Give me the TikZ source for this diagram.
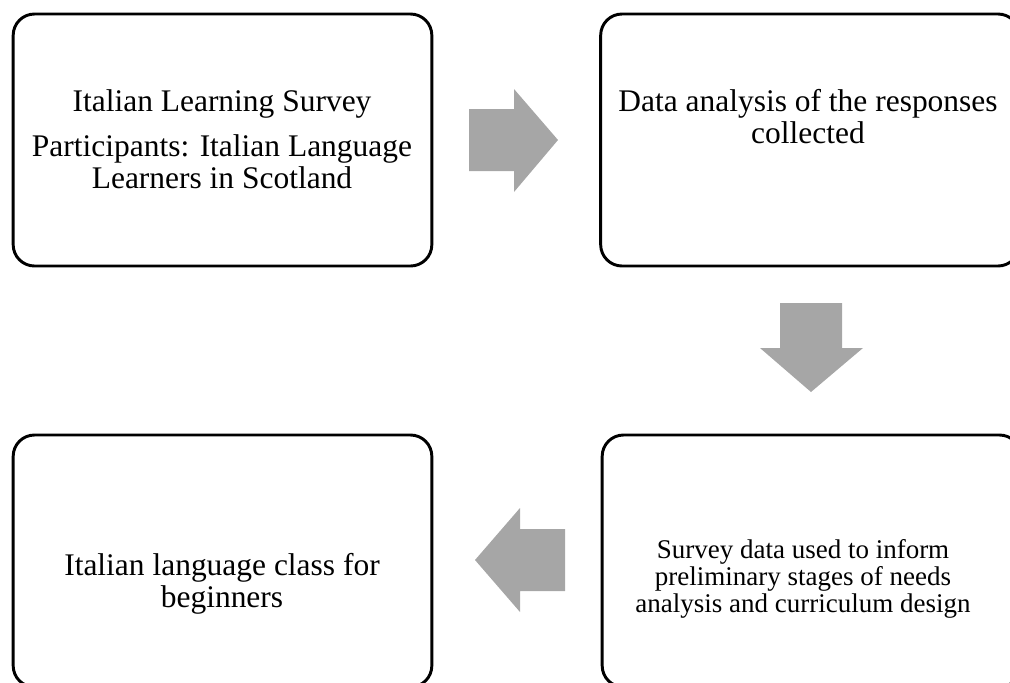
\documentclass[tikz,border=0pt]{standalone}
\usepackage{fontspec}
\setmainfont{Liberation Serif}
\begin{document}
\begin{tikzpicture}[x=0.75pt,y=-0.75pt,
  stage/.style={draw=black, line width=2.2pt, rounded corners=16pt,
    minimum width=314pt, minimum height=189pt, inner sep=0pt},
  caption/.style={inner sep=0pt, align=center, anchor=north,
    font=\fontsize{23.6}{24}\selectfont},
  smallcaption/.style={inner sep=0pt, align=center, anchor=north,
    font=\fontsize{20.25}{20.5}\selectfont},
  flow/.style={fill=flowgray, draw=none}]
\definecolor{flowgray}{HTML}{A6A6A6}
\useasboundingbox (0,0) rectangle (1010,682);

% the four stages
\node[stage] (survey)   at (222.5,140) {};
\node[stage] (analysis) at (810,140) {};
\node[stage] (design)   at (811.5,561) {};
\node[stage] (class)    at (222.5,561) {};

% stage texts
\node[caption] (surveytext) at (222,89)
  {Italian Learning Survey\\[9.75pt]Participants: Italian Language\\Learners in Scotland};
\node[caption] (analysistext) at (808,89)
  {Data analysis of the responses\\collected};
\node[smallcaption] (designtext) at (803,539)
  {Survey data used to inform\\preliminary stages of needs\\analysis and curriculum design};
\node[caption] (classtext) at (222,553)
  {Italian language class for\\beginners};

% block arrows between the stages
\fill[flow] (469,109) -- (514,109) -- (514,89) -- (558,140) -- (514,192)
  -- (514,171) -- (469,171) -- cycle;
\fill[flow] (780,303) -- (842,303) -- (842,348) -- (863,348) -- (811,392)
  -- (760,348) -- (780,348) -- cycle;
\fill[flow] (565,529) -- (520,529) -- (520,508) -- (475,560) -- (520,612)
  -- (520,591) -- (565,591) -- cycle;
\end{tikzpicture}
\end{document}
